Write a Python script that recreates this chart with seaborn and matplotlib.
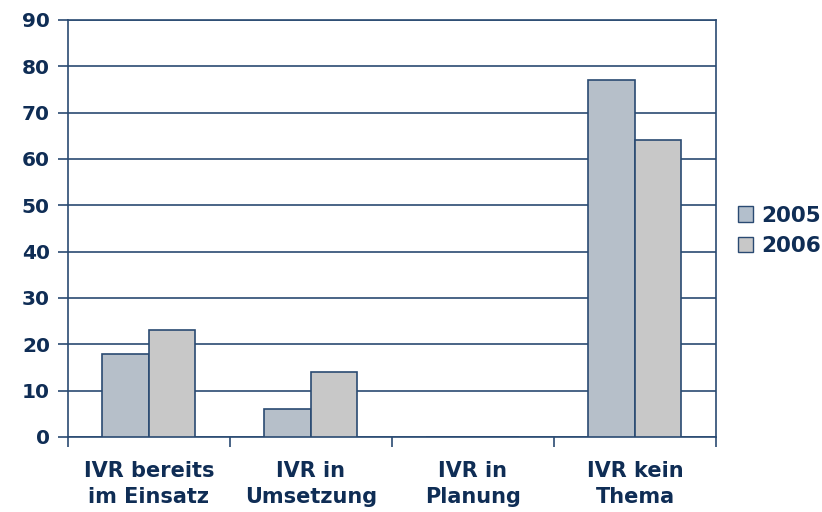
import matplotlib
matplotlib.use("Agg")
import matplotlib.pyplot as plt
import seaborn as sns
import pandas as pd
from matplotlib.patches import Patch

categories = ["IVR bereits\nim Einsatz", "IVR in\nUmsetzung", "IVR in\nPlanung", "IVR kein\nThema"]
years = ["2005", "2006"]
values_2005 = [18, 6, 0, 77]
values_2006 = [23, 14, 0, 64]
y_ticks = [0, 10, 20, 30, 40, 50, 60, 70, 80, 90]

navy = "#0f2d55"
line_col = "#2a4a72"
palette = {"2005": "#b3bfcc", "2006": "#c8c8c8"}

df = pd.DataFrame({
    "Kategorie": categories * 2,
    "Jahr": [years[0]] * len(categories) + [years[1]] * len(categories),
    "Wert": values_2005 + values_2006,
})

sns.set_theme(style="white")
plt.rcParams["font.family"] = ["DejaVu Sans"]

fig = plt.figure(figsize=(8.22, 5.12), dpi=100)
ax = fig.add_axes([0.0827, 0.1465, 0.7883, 0.8145])

sns.barplot(data=df, x="Kategorie", y="Wert", hue="Jahr", palette=palette,
            width=0.574, edgecolor=line_col, linewidth=1.2, ax=ax, legend=False,
            zorder=3)

ax.set_ylim(0, 90)
ax.set_xlim(-0.5, len(categories) - 0.5)
ax.set_yticks(y_ticks)
ax.yaxis.grid(True, color=line_col, linewidth=1.2, zorder=0)
ax.set_axisbelow(True)

for side in ["left", "bottom", "right", "top"]:
    ax.spines[side].set_visible(True)
    ax.spines[side].set_color(line_col)
    ax.spines[side].set_linewidth(1.2)

ax.set_xlabel("")
ax.set_ylabel("")
ax.tick_params(axis="y", length=7, width=1.2, color=line_col, left=True,
               labelsize=14.5, labelcolor=navy, pad=6)
ax.set_yticklabels([str(t) for t in y_ticks], fontweight="bold")

ax.set_xticks(range(len(categories)))
ax.set_xticklabels(categories, fontweight="bold", fontsize=15, color=navy,
                   linespacing=1.4)
ax.tick_params(axis="x", which="major", length=0, pad=17)
ax.set_xticks([i - 0.5 for i in range(len(categories) + 1)], minor=True)
ax.tick_params(axis="x", which="minor", length=7, width=1.2, color=line_col,
               bottom=True)

handles = [Patch(facecolor=palette[y], edgecolor=line_col, linewidth=1.0, label=y)
           for y in years]
leg = fig.legend(handles=handles, loc="center left", bbox_to_anchor=(0.874, 0.549),
                 frameon=False, handlelength=0.7, handleheight=0.7,
                 handletextpad=0.4, labelspacing=0.5,
                 prop={"weight": "bold", "size": 15.5})
for t in leg.get_texts():
    t.set_color(navy)

fig.savefig("out.png", dpi=100, facecolor="white")
